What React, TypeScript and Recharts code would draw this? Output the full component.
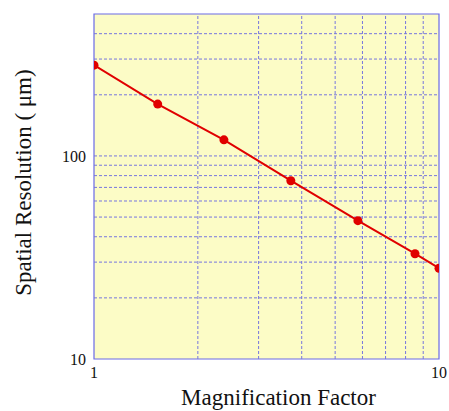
import {
  LineChart,
  Line,
  XAxis,
  YAxis,
  ReferenceArea,
  ReferenceLine,
  Label,
} from 'recharts';

// measured points (magnification, resolution in um)
const magnification = [1, 1.53, 2.38, 3.72, 5.82, 8.52, 10];
const resolution = [280, 180, 120, 75.5, 48, 33, 28];

const xTicks = [1, 10];
const yTicks = [10, 100];
const xGrid = [2, 3, 4, 5, 6, 7, 8, 9];
const yGrid = [20, 30, 40, 50, 60, 70, 80, 90, 100, 200, 300, 400];

const data = magnification.map((m, i) => ({ m, r: resolution[i] }));

const GRID = '#7676de';
const SERIF = '"Liberation Serif", "Times New Roman", serif';

export default function App() {
  return (
    <div style={{ position: 'absolute', left: 0, top: 0, background: '#fff' }}>
      <LineChart
        width={449}
        height={411}
        data={data}
        margin={{ top: 14, right: 10, bottom: 0, left: 0 }}
      >
        <XAxis
          dataKey="m"
          type="number"
          scale="log"
          domain={[1, 10]}
          ticks={xTicks}
          allowDataOverflow
          height={52}
          axisLine={false}
          tickLine={false}
          tick={{ fill: '#111', fontSize: 16, fontFamily: SERIF }}
        >
          <Label
            content={({ viewBox }: any) => (
              <text
                x={viewBox.x + viewBox.width / 2 + 12}
                y={viewBox.y + 46}
                textAnchor="middle"
                fontSize={23}
                fontFamily={SERIF}
                fill="#111"
              >
                Magnification Factor
              </text>
            )}
          />
        </XAxis>
        <YAxis
          type="number"
          scale="log"
          domain={[10, 500]}
          ticks={yTicks}
          allowDataOverflow
          width={94}
          axisLine={false}
          tickLine={false}
          tick={{ fill: '#111', fontSize: 16, fontFamily: SERIF }}
        >
          <Label
            content={({ viewBox }: any) => {
              const cx = 31;
              const cy = viewBox.y + viewBox.height / 2 - 4;
              return (
                <text
                  x={cx}
                  y={cy}
                  transform={`rotate(-90 ${cx} ${cy})`}
                  textAnchor="middle"
                  fontSize={23}
                  fontFamily={SERIF}
                  fill="#111"
                >
                  Spatial Resolution ( μm)
                </text>
              );
            }}
          />
        </YAxis>
        <ReferenceArea x1={1} x2={10} y1={10} y2={500} fill="#fcfcc6" fillOpacity={1} stroke="none" />
        {xGrid.map((v) => (
          <ReferenceLine key={`x${v}`} x={v} stroke={GRID} strokeDasharray="3 2" strokeWidth={1} />
        ))}
        {yGrid.map((v) => (
          <ReferenceLine key={`y${v}`} y={v} stroke={GRID} strokeDasharray="3 2" strokeWidth={1} />
        ))}
        <ReferenceArea x1={1} x2={10} y1={10} y2={500} fill="none" stroke="#6a6ae6" strokeWidth={1.2} />
        <Line
          dataKey="r"
          stroke="#e00000"
          strokeWidth={2}
          dot={{ r: 4.5, fill: '#e00000', stroke: '#e00000', strokeWidth: 0 }}
          isAnimationActive={false}
        />
      </LineChart>
    </div>
  );
}
